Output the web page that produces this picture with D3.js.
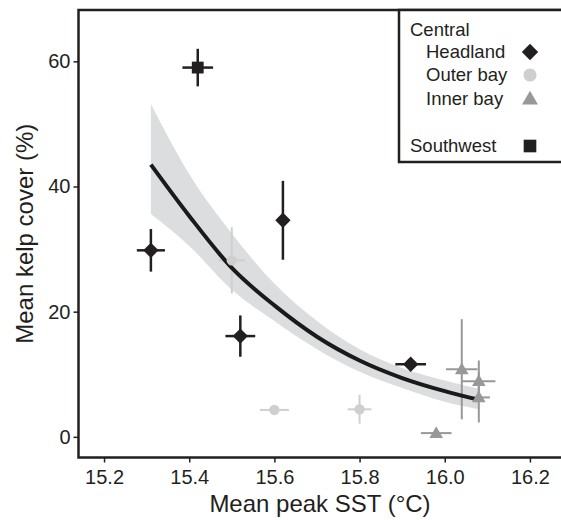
<!DOCTYPE html>
<html>
<head>
<meta charset="utf-8">
<script src="https://cdn.jsdelivr.net/npm/d3@7"></script>
<style>
  body { margin: 0; background: #fff; }
  text { font-family: "Liberation Sans", Arial, sans-serif; fill: #231f20; }
</style>
</head>
<body>
<div id="chart"></div>
<script>
////////////////////////////////////////////////////////////
//////////////////////// Data //////////////////////////////
////////////////////////////////////////////////////////////
// Central - Headland
var headSST = [15.31, 15.52, 15.62, 15.92];
var headKelp = [29.8, 16.1, 34.6, 11.6];
var headSSTerr = [0.033, 0.035, 0.012, 0.036];
var headKelpErr = [3.4, 3.3, 6.3, 0.8];

// Central - Outer bay
var outerSST = [15.50, 15.60, 15.80];
var outerKelp = [28.2, 4.3, 4.4];
var outerSSTerr = [0.031, 0.034, 0.028];
var outerKelpErr = [5.3, 0.5, 2.3];

// Central - Inner bay
var innerSST = [15.98, 16.04, 16.08, 16.08];
var innerKelp = [0.6, 10.8, 8.9, 6.3];
var innerSSTerr = [0.036, 0.037, 0.039, 0.026];
var innerKelpErr = [0.5, 8.0, 3.3, 4.0];

// Southwest
var swSST = [15.42];
var swKelp = [59.0];
var swSSTerr = [0.036];
var swKelpErr = [3.0];

// Fitted curve + confidence band
var fitX  = [15.31, 15.4, 15.5, 15.6, 15.7, 15.8, 15.9, 16.0, 16.08];
var fitY  = [43.5, 35.3, 27.0, 21.0, 16.0, 12.2, 9.4, 7.3, 5.9];
var fitLo = [35.6, 30.5, 23.5, 18.5, 14.0, 10.4, 7.8, 5.6, 4.4];
var fitHi = [53.2, 42.0, 32.5, 24.5, 18.5, 14.0, 11.0, 9.0, 7.7];

var xTicks = [15.2, 15.4, 15.6, 15.8, 16.0, 16.2];
var yTicks = [0, 20, 40, 60];

var legendLabels = ['Headland', 'Outer bay', 'Inner bay'];

////////////////////////////////////////////////////////////
//////////////////////// Set-Up ////////////////////////////
////////////////////////////////////////////////////////////
var width = 561, height = 520;
var pLeft = 78.5, pTop = 10, pBottom = 457.5, pRight = 570;

var dark = '#231f20', light = '#cfcfd0', mid = '#98989a', band = '#dcdddf';

var svg = d3.select('#chart').append('svg')
            .attr('width', width)
            .attr('height', height);

var x = d3.scaleLinear().domain([15.14, 16.273]).range([pLeft, 561]);
var y = d3.scaleLinear().domain([-3.3, 68.2]).range([pBottom, pTop]);

// Confidence band
var fit = fitX.map(function(d, i) { return {x: d, y: fitY[i], lo: fitLo[i], hi: fitHi[i]}; });

svg.append('path')
   .datum(fit)
   .attr('fill', band)
   .attr('d', d3.area()
                .x(function(d) { return x(d.x); })
                .y0(function(d) { return y(d.lo); })
                .y1(function(d) { return y(d.hi); })
                .curve(d3.curveMonotoneX));

// Points
var groups = [
  {sst: headSST, kelp: headKelp, ex: headSSTerr, ey: headKelpErr, color: dark, shape: d3.symbolDiamond2, size: 150, w: 2.5},
  {sst: outerSST, kelp: outerKelp, ex: outerSSTerr, ey: outerKelpErr, color: light, shape: d3.symbolCircle, size: 85, w: 2},
  {sst: innerSST, kelp: innerKelp, ex: innerSSTerr, ey: innerKelpErr, color: mid, shape: d3.symbolTriangle, size: 80, w: 2},
  {sst: swSST, kelp: swKelp, ex: swSSTerr, ey: swKelpErr, color: dark, shape: d3.symbolSquare, size: 140, w: 2.5}
];

var barG = svg.append('g').classed('bars', true);
groups.forEach(function(g) {
  g.sst.forEach(function(s, i) {
    barG.append('line')
        .attr('x1', x(s - g.ex[i])).attr('x2', x(s + g.ex[i]))
        .attr('y1', y(g.kelp[i])).attr('y2', y(g.kelp[i]))
        .style('stroke', g.color).style('stroke-width', g.w);
    barG.append('line')
        .attr('x1', x(s)).attr('x2', x(s))
        .attr('y1', y(g.kelp[i] - g.ey[i])).attr('y2', y(g.kelp[i] + g.ey[i]))
        .style('stroke', g.color).style('stroke-width', g.w);
  });
});

// Fitted line
svg.append('path')
   .datum(fit)
   .attr('fill', 'none')
   .attr('stroke', '#1a1a1a')
   .attr('stroke-width', 4)
   .attr('d', d3.line()
                .x(function(d) { return x(d.x); })
                .y(function(d) { return y(d.y); })
                .curve(d3.curveMonotoneX));

var markG = svg.append('g').classed('marks', true);
groups.forEach(function(g) {
  g.sst.forEach(function(s, i) {
    var dy = g.shape === d3.symbolTriangle ? 1 : 0;
    markG.append('path')
         .attr('d', d3.symbol().type(g.shape).size(g.size))
         .attr('transform', 'translate(' + x(s) + ',' + (y(g.kelp[i]) + dy) + ')')
         .style('fill', g.color);
  });
});

////////////////////////////////////////////////////////////
//////////////////////// Axes //////////////////////////////
////////////////////////////////////////////////////////////
var xAxis = svg.append('g')
               .attr('transform', 'translate(0,' + pBottom + ')')
               .call(d3.axisBottom(x).tickValues(xTicks).tickFormat(d3.format('.1f')).tickSize(5).tickPadding(7));
var yAxis = svg.append('g')
               .attr('transform', 'translate(' + pLeft + ',0)')
               .call(d3.axisLeft(y).tickValues(yTicks).tickSize(5).tickPadding(3));

[xAxis, yAxis].forEach(function(a) {
  a.select('.domain').remove();
  a.selectAll('.tick line').style('stroke', dark).style('stroke-width', 1.5);
  a.selectAll('.tick text')
   .style('font-family', '"Liberation Sans", Arial, sans-serif')
   .style('font-size', '20px')
   .style('fill', dark);
});

// Plot frame (right side is outside the picture)
svg.append('rect')
   .attr('x', pLeft).attr('y', pTop)
   .attr('width', pRight - pLeft).attr('height', pBottom - pTop)
   .style('fill', 'none').style('stroke', dark).style('stroke-width', 2.5);

// Axis titles
svg.append('text')
   .attr('x', 320).attr('y', 512)
   .attr('text-anchor', 'middle')
   .style('font-size', '24px')
   .text('Mean peak SST (°C)');

svg.append('text')
   .attr('transform', 'translate(33,' + ((pTop + pBottom) / 2) + ') rotate(-90)')
   .attr('text-anchor', 'middle')
   .style('font-size', '24px')
   .text('Mean kelp cover (%)');

////////////////////////////////////////////////////////////
//////////////////////// Legend ////////////////////////////
////////////////////////////////////////////////////////////
var leg = svg.append('g').classed('legend', true);
leg.append('rect')
   .attr('x', 399).attr('y', pTop)
   .attr('width', 180).attr('height', 152)
   .style('fill', '#fff').style('stroke', dark).style('stroke-width', 2.5);

leg.append('text').attr('x', 410).attr('y', 36).style('font-size', '18.5px').text('Central');
var legY = [58, 81, 105];
var legSize = [170, 135, 110];
legendLabels.forEach(function(l, i) {
  leg.append('text').attr('x', 426).attr('y', legY[i]).style('font-size', '18.5px').text(l);
  var g = groups[i];
  leg.append('path')
     .attr('d', d3.symbol().type(g.shape).size(legSize[i]))
     .attr('transform', 'translate(530,' + (legY[i] - 6 + (i === 2 ? 1 : 0)) + ')')
     .style('fill', g.color);
});
leg.append('text').attr('x', 410).attr('y', 152).style('font-size', '18.5px').text('Southwest');
leg.append('path')
   .attr('d', d3.symbol().type(d3.symbolSquare).size(160))
   .attr('transform', 'translate(530,146)')
   .style('fill', dark);
</script>
</body>
</html>
